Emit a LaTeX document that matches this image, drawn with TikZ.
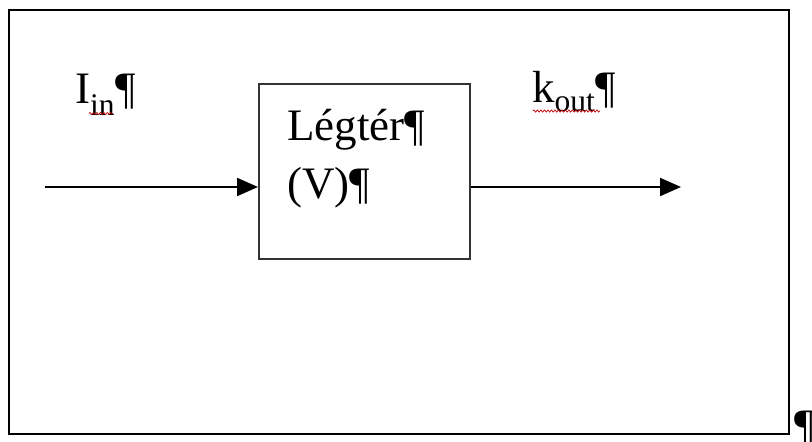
\documentclass[tikz,border=0pt]{standalone}
\usepackage{fontspec}
\setmainfont{Liberation Serif}
\usetikzlibrary{arrows.meta,decorations.pathmorphing}
\begin{document}
\begin{tikzpicture}[x=1pt,y=-1pt,
  lbl/.style={anchor=base west, inner sep=0pt, font=\fontsize{45}{54}\selectfont},
  flow/.style={line width=2.2pt, -{Triangle[length=21pt,width=18pt]}},
  squig/.style={red!75!black, line width=0.7pt, decorate, decoration={zigzag, amplitude=1.1pt, segment length=3.5pt}}]
\useasboundingbox (0,0) rectangle (812,442);
\draw[line width=2.8pt] (9,10) rectangle (789,434);
\node[draw, line width=1.6pt, draw=black!80, minimum width=211pt, minimum height=175pt, anchor=north west, inner sep=0pt] (box) at (258,83) {};
\node[lbl] (legter) at (287,140) {Légtér¶};
\node[lbl] (vol) at (287,198) {(V)¶};
\node[lbl] (iin) at (75,103) {I\textsubscript{in}¶};
\node[lbl] (kout) at (532,102) {k\textsubscript{out}¶};
\node[lbl] (par) at (794,440) {¶};
\coordinate (ain) at (45,187);
\coordinate (aout) at (681,187);
\draw[flow] (ain) -- (box.west |- ain);
\draw[flow] (box.east |- aout) -- (aout);
\draw[squig] (89,113.5) -- (113,113.5);
\draw[squig] (533,111) -- (600,111);
\end{tikzpicture}
\end{document}
